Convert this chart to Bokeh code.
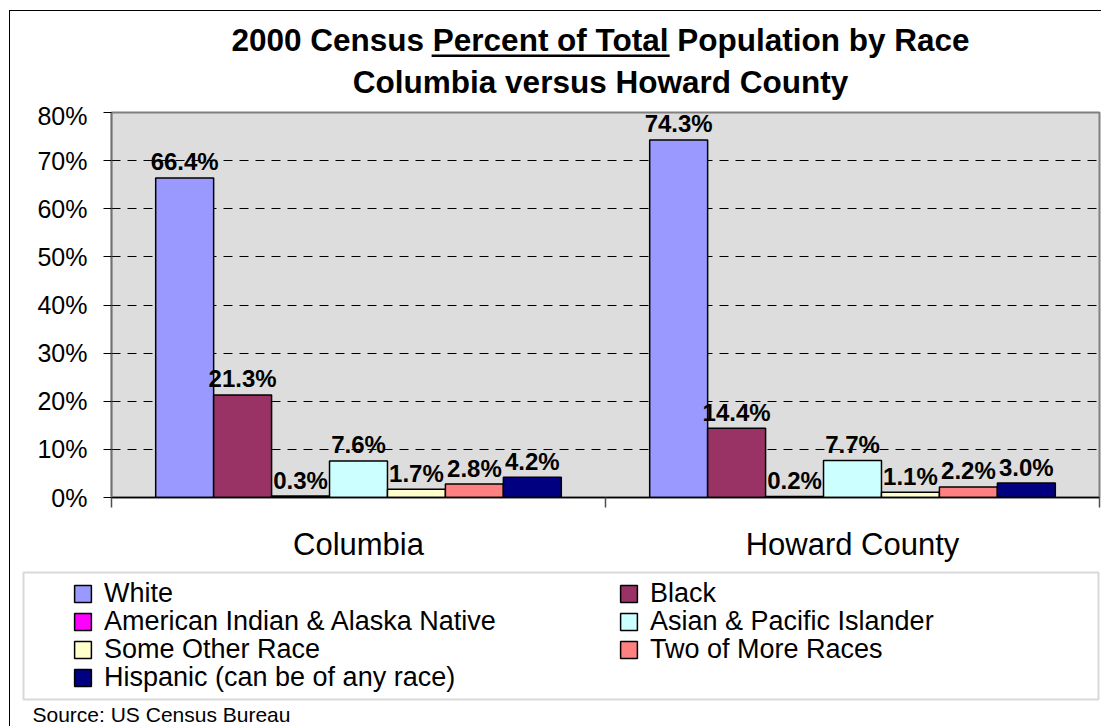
from bokeh.plotting import figure
from bokeh.layouts import column
from bokeh.models import (ColumnDataSource, FixedTicker, PrintfTickFormatter, Label,
                          Legend, LegendItem, BoxAnnotation, Range1d)
from bokeh.core.properties import value
from bokeh.embed import file_html
from bokeh.resources import INLINE

# ---------------- data ----------------
categories = ["Columbia", "Howard County"]
races = ["White", "Black", "American Indian & Alaska Native", "Asian & Pacific Islander",
         "Some Other Race", "Two of More Races", "Hispanic (can be of any race)"]
columbia = [66.4, 21.3, 0.3, 7.6, 1.7, 2.8, 4.2]
howard = [74.3, 14.4, 0.2, 7.7, 1.1, 2.2, 3.0]
colors = ["#9999FF", "#993366", "#FF00FF", "#CCFFFF", "#FFFFCC", "#FF8080", "#000080"]
y_ticks = [0, 10, 20, 30, 40, 50, 60, 70, 80]
title_pre = "2000 Census "
title_underlined = "Percent of Total"
title_post = " Population by Race"
title_line2 = "Columbia versus Howard County"
source_note = "Source:  US Census Bureau"

FONT = "Liberation Sans"
WIDTH = 1091
HA, HB, HC = 90, 464, 161


def blank_fig(h, xr=(0, 2), yr=(0, 1)):
    f = figure(width=WIDTH, height=h, x_range=Range1d(*xr), y_range=Range1d(*yr),
               x_axis_location=None, y_axis_location=None, min_border=0,
               output_backend="svg", toolbar_location=None)
    f.frame_align = False
    f.outline_line_color = None
    f.background_fill_color = "white"
    f.border_fill_color = "white"
    f.xgrid.visible = False
    f.ygrid.visible = False
    return f


# ---------------- title figure ----------------
fa = blank_fig(HA)
title_line1 = title_pre + title_underlined + title_post
cx = 590
fs = 31.5
fa.add_layout(Label(x=cx, y=62, x_units="screen", y_units="screen", text=title_line1,
                    text_align="center", text_baseline="alphabetic", text_font=FONT,
                    text_font_style="bold", text_font_size=f"{fs}px", text_color="black"))
fa.add_layout(Label(x=cx, y=20, x_units="screen", y_units="screen", text=title_line2,
                    text_align="center", text_baseline="alphabetic", text_font=FONT,
                    text_font_style="bold", text_font_size=f"{fs}px", text_color="black"))
# underline under "Percent of Total" (Liberation Sans Bold advance widths in em)
em_total, em_pre, em_u = 23.507, 6.392, 7.557
u_left = cx - em_total * fs / 2 + em_pre * fs
u_right = u_left + em_u * fs
fa.add_layout(BoxAnnotation(left=u_left, right=u_right, top=47, bottom=44.5,
                            left_units="screen", right_units="screen",
                            top_units="screen", bottom_units="screen",
                            fill_color="black", fill_alpha=1, line_color=None))

# ---------------- chart figure ----------------
p = figure(width=WIDTH, height=HB, x_range=Range1d(0, 2), y_range=Range1d(0, 80),
           output_backend="svg", toolbar_location=None,
           min_border_left=101, min_border_right=2,
           min_border_top=11, min_border_bottom=68)
p.frame_align = False
p.background_fill_color = "#DDDDDD"
p.border_fill_color = "white"
p.outline_line_color = "#808080"
p.outline_line_width = 2

ya = p.yaxis[0]
ya.ticker = FixedTicker(ticks=y_ticks)
ya.formatter = PrintfTickFormatter(format="%d%%")
ya.axis_line_color = "#707070"
ya.axis_line_width = 1.5
ya.major_tick_line_color = "black"
ya.major_tick_out = 8
ya.major_tick_in = 0
ya.minor_tick_line_color = None
ya.major_label_text_font = FONT
ya.major_label_text_font_size = "25px"
ya.major_label_text_color = "black"
ya.major_label_standoff = 16

cat_centers = [i + 0.5 for i in range(len(categories))]
xa = p.xaxis[0]
xa.ticker = FixedTicker(ticks=cat_centers, minor_ticks=list(range(len(categories) + 1)))
xa.major_label_overrides = {c: n for c, n in zip(cat_centers, categories)}
xa.axis_line_color = "black"
xa.axis_line_width = 1.5
xa.major_tick_line_color = None
xa.major_tick_out = 0
xa.major_tick_in = 0
xa.minor_tick_line_color = "#505050"
xa.minor_tick_line_width = 1.5
xa.minor_tick_out = 10
xa.minor_tick_in = 0
xa.major_label_text_font = FONT
xa.major_label_text_font_size = "31px"
xa.major_label_text_color = "black"
xa.major_label_standoff = 19

p.xgrid.grid_line_color = None
p.ygrid.ticker = FixedTicker(ticks=y_ticks)
p.ygrid.grid_line_color = "black"
p.ygrid.grid_line_width = 1
p.ygrid.grid_line_dash = "9 7"

n = len(races)
bw = 0.1173
bar_x = []
lab_x, lab_y, lab_t = [], [], []
for i, race in enumerate(races):
    xs = [c + (i - (n - 1) / 2) * bw for c in cat_centers]
    tops = [columbia[i], howard[i]]
    bar_x.append(xs)
    src = ColumnDataSource(dict(x=xs, top=tops))
    p.vbar(x="x", top="top", bottom=0, width=bw, source=src,
           fill_color=colors[i], line_color="black", line_width=1.5)
    lab_x += xs
    lab_y += tops
    lab_t += [f"{v:.1f}%" for v in tops]

p.text(x=lab_x, y=lab_y, text=lab_t, text_align="center", text_baseline="alphabetic",
       y_offset=-16, text_font=value(FONT), text_font_style="bold",
       text_font_size="24px", text_color="black")

# ---------------- legend / source figure ----------------
fc = blank_fig(HC, xr=(10, 12), yr=(-2, -1))
fc.add_layout(BoxAnnotation(left=13, right=1088, top=HC - 7, bottom=HC - 134,
                            left_units="screen", right_units="screen",
                            top_units="screen", bottom_units="screen",
                            fill_alpha=0, line_color="#808080", line_width=2))
# hidden proxy bars (same data and styles) that only feed the legend swatches
proxy = {}
for i, race in enumerate(races):
    proxy[race] = fc.vbar(x=bar_x[i], top=[columbia[i], howard[i]], bottom=0, width=bw,
                          fill_color=colors[i], line_color="black", line_width=1.5,
                          visible=False)

C_TOP = 565
row_centers = [593, 621, 649, 677]
col_x = [62, 608]
layout_cells = [(0, 0), (1, 0), (0, 1), (1, 1), (0, 2), (1, 2), (0, 3)]  # (col, row) per race
for race, (ci, ri) in zip(races, layout_cells):
    lg = Legend(items=[LegendItem(label=race, renderers=[proxy[race]])],
                location=(col_x[ci], HC - (row_centers[ri] + 16 - C_TOP)),
                orientation="vertical", padding=0, margin=0, spacing=0,
                glyph_width=21, glyph_height=21, label_standoff=11, label_height=32,
                label_text_font=FONT, label_text_font_size="27px", label_text_color="black",
                border_line_color=None, background_fill_alpha=0)
    fc.add_layout(lg)

fc.add_layout(Label(x=22, y=HC - (714 - C_TOP), x_units="screen", y_units="screen",
                    text=source_note, text_align="left", text_baseline="alphabetic",
                    text_font=FONT, text_font_size="21px", text_color="black"))

layout = column(fa, p, fc, spacing=0,
                styles={"margin-left": "9px", "margin-top": "10px",
                        "border-left": "1px solid black", "border-top": "1px solid black"})

open("out.html", "w").write(file_html(layout, INLINE))
